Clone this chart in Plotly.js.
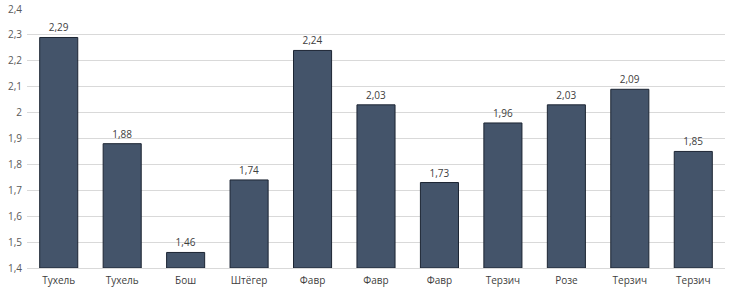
<!DOCTYPE html>
<html><head><meta charset="utf-8">
<script src="https://cdn.plot.ly/plotly-3.0.1.min.js"></script>
<style>html,body{margin:0;padding:0;background:#fff}#chart{width:730px;height:289px}</style>
</head><body><div id="chart"></div>
<script>
const categories = ["Тухель","Тухель","Бош","Штёгер","Фавр","Фавр","Фавр","Терзич","Розе","Терзич","Терзич"];
const values = [2.29,1.88,1.46,1.74,2.24,2.03,1.73,1.96,2.03,2.09,1.85];
const yTicks = [1.4,1.5,1.6,1.7,1.8,1.9,2.0,2.1,2.2,2.3,2.4];
const yTickText = ["1,4","1,5","1,6","1,7","1,8","1,9","2","2,1","2,2","2,3","2,4"];

const idx = categories.map((c,i)=>i);
const fmt = v => v.toFixed(2).replace('.', ',');

Plotly.newPlot('chart', [{
  type:'bar', x: idx, y: values.map(v=>v-1.4), base: 1.4,
  marker:{color:'#44546A', line:{color:'#1c2533', width:1}},
  width:0.6,
  text: values.map(fmt), textposition:'outside',
  textfont:{family:'Open Sans, sans-serif', size:10, color:'#404040'},
  cliponaxis:false, hoverinfo:'none'
}], {
  width:730, height:289,
  margin:{l:27, r:5, t:9, b:21},
  paper_bgcolor:'#fff', plot_bgcolor:'#fff',
  showlegend:false, bargap:0.4,
  font:{family:'Open Sans, sans-serif', size:10, color:'#404040'},
  xaxis:{tickmode:'array', tickvals: idx, ticktext: categories, range:[-0.5,10.5],
    showgrid:false, zeroline:false, showline:true, linecolor:'#d9d9d9', ticks:'',
    tickfont:{size:10,color:'#404040'}, ticklabelstandoff:3},
  yaxis:{range:[1.4,2.4], tickmode:'array', tickvals:yTicks, ticktext:yTickText,
    showgrid:true, gridcolor:'#d9d9d9', zeroline:false, showline:false, ticks:'',
    tickfont:{size:10,color:'#595959'}, ticklabelstandoff:4}
}, {displayModeBar:false, staticPlot:true});
</script></body></html>
